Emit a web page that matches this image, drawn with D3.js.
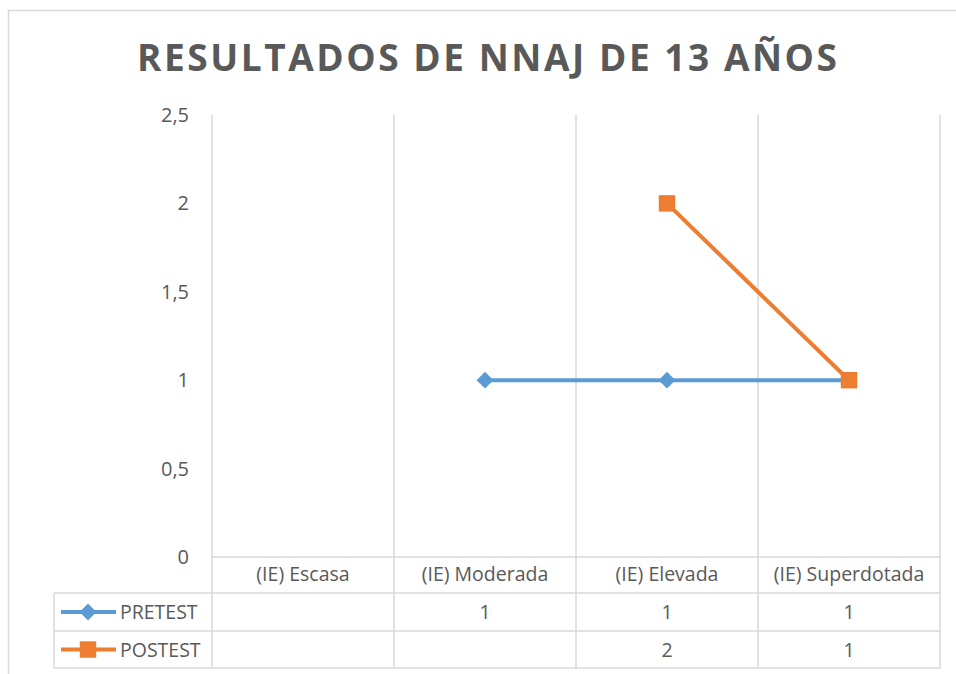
<!DOCTYPE html>
<html>
<head>
<meta charset="utf-8">
<script src="https://cdn.jsdelivr.net/npm/d3@7"></script>
<style>
  body { margin: 0; background: #fff; }
  text { font-family: "Open Sans", sans-serif; fill: #595959; }
</style>
</head>
<body>
<script>
let categories = ["(IE) Escasa", "(IE) Moderada", "(IE) Elevada", "(IE) Superdotada"];
let pretest = [null, 1, 1, 1];
let postest = [null, null, 2, 1];
let yTicks = [0, 0.5, 1, 1.5, 2, 2.5];
let seriesNames = ["PRETEST", "POSTEST"];
let seriesColors = ["#5B9BD5", "#ED7D31"];

let W = 956, H = 674;
let plotLeft = 212, plotRight = 940, plotTop = 115, plotBottom = 557;
let rowH = [557, 593, 631, 668];
let legendLeft = 54;

let svg = d3.select("body").append("svg")
    .attr("width", W)
    .attr("height", H);

// chart frame
svg.append("rect")
    .attr("x", 8.5).attr("y", 10.5)
    .attr("width", 960).attr("height", 700)
    .attr("fill", "none")
    .attr("stroke", "#D9D9D9")
    .attr("stroke-width", 1.5);

svg.append("text")
    .attr("x", 137).attr("y", 71)
    .attr("textLength", 700)
    .attr("lengthAdjust", "spacing")
    .style("font-size", "37px")
    .style("font-weight", "bold")
    .text("RESULTADOS DE NNAJ DE 13 AÑOS");

let x = d3.scaleBand()
    .domain(categories)
    .range([plotLeft, plotRight]);

let y = d3.scaleLinear()
    .domain([0, 2.5])
    .range([plotBottom, plotTop]);

let grid = "#D9D9D9";

// vertical gridlines at category edges, running through the table
let edges = categories.map(c => x(c)).concat([x.range()[1]]);
svg.selectAll(".vgrid")
    .data(edges)
    .enter()
    .append("line")
    .attr("x1", d => d).attr("x2", d => d)
    .attr("y1", plotTop).attr("y2", rowH[3])
    .attr("stroke", grid)
    .attr("stroke-width", 1.5);

// table horizontal lines
svg.append("line")
    .attr("x1", plotLeft).attr("x2", plotRight)
    .attr("y1", rowH[0]).attr("y2", rowH[0])
    .attr("stroke", grid).attr("stroke-width", 1.5);
svg.selectAll(".hrow")
    .data(rowH.slice(1))
    .enter()
    .append("line")
    .attr("x1", legendLeft).attr("x2", plotRight)
    .attr("y1", d => d).attr("y2", d => d)
    .attr("stroke", grid).attr("stroke-width", 1.5);
svg.append("line")
    .attr("x1", legendLeft).attr("x2", legendLeft)
    .attr("y1", rowH[1]).attr("y2", rowH[3])
    .attr("stroke", grid).attr("stroke-width", 1.5);

// y axis labels
let fmt = d => String(d).replace(".", ",");
svg.selectAll(".ytick")
    .data(yTicks)
    .enter()
    .append("text")
    .attr("x", 189)
    .attr("y", d => y(d) + 7)
    .attr("text-anchor", "end")
    .style("font-size", "20px")
    .text(fmt);

// category labels
svg.selectAll(".cat")
    .data(categories)
    .enter()
    .append("text")
    .attr("x", d => x(d) + x.bandwidth() / 2)
    .attr("y", 581)
    .attr("text-anchor", "middle")
    .style("font-size", "19.5px")
    .text(d => d);

// series
let allSeries = [pretest, postest];
let line = d3.line()
    .defined(d => d != null)
    .x((d, i) => x(categories[i]) + x.bandwidth() / 2)
    .y(d => y(d));

let diamond = d3.symbol().type(d3.symbolDiamond2).size(180);
let square = d3.symbol().type(d3.symbolSquare).size(270);
let symbols = [diamond, square];

allSeries.forEach((s, k) => {
    svg.append("path")
        .datum(s)
        .attr("d", line)
        .attr("fill", "none")
        .attr("stroke", seriesColors[k])
        .attr("stroke-width", 4);

    let pts = s.map((v, i) => ({ v: v, c: categories[i] })).filter(d => d.v != null);

    svg.selectAll(".pt" + k)
        .data(pts)
        .enter()
        .append("path")
        .attr("d", symbols[k])
        .attr("transform", d => `translate(${x(d.c) + x.bandwidth() / 2},${y(d.v)})`)
        .attr("fill", seriesColors[k]);

    // table row values
    let rowY = (rowH[k + 1] + rowH[k + 2]) / 2 + 7;
    svg.selectAll(".val" + k)
        .data(pts)
        .enter()
        .append("text")
        .attr("x", d => x(d.c) + x.bandwidth() / 2)
        .attr("y", rowY)
        .attr("text-anchor", "middle")
        .style("font-size", "19.5px")
        .text(d => fmt(d.v));

    // legend key
    let ly = (rowH[k + 1] + rowH[k + 2]) / 2;
    svg.append("line")
        .attr("x1", 61).attr("x2", 116)
        .attr("y1", ly).attr("y2", ly)
        .attr("stroke", seriesColors[k])
        .attr("stroke-width", 4);
    svg.append("path")
        .attr("d", symbols[k])
        .attr("transform", `translate(88,${ly})`)
        .attr("fill", seriesColors[k]);
    svg.append("text")
        .attr("x", 120)
        .attr("y", ly + 7)
        .style("font-size", "19.5px")
        .text(seriesNames[k]);
});
</script>
</body>
</html>
